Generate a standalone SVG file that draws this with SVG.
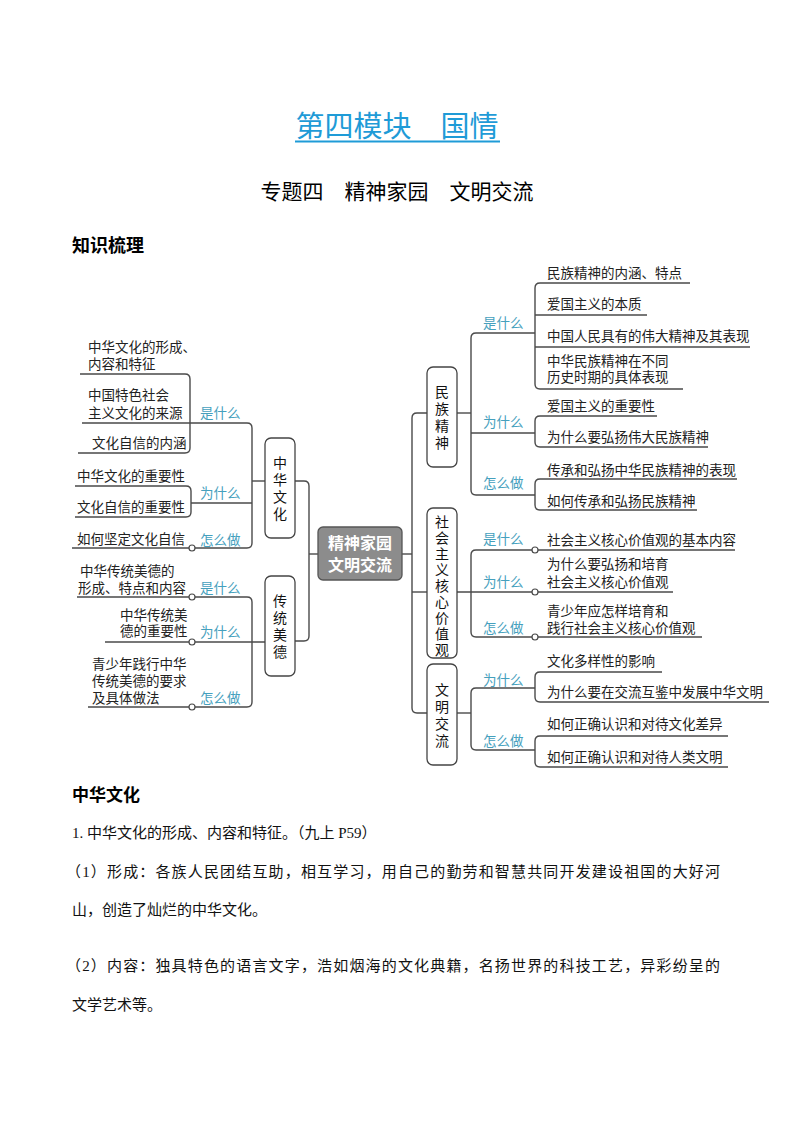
<svg xmlns="http://www.w3.org/2000/svg" width="794" height="1123" viewBox="0 0 794 1123">
<style>
text{font-family:"Liberation Sans","Noto Sans CJK SC",sans-serif;}
.it{font-size:13.5px;fill:#222;}
.lb{font-size:13.5px;fill:#45a0bd;}
.vt{font-size:14px;fill:#111;text-anchor:middle;}
.box{fill:#fff;stroke:#444;stroke-width:1.3;}
.ln{fill:none;stroke:#4a4a4a;stroke-width:1.4;}
.dot{fill:#fff;stroke:#4a4a4a;stroke-width:1.2;}
.body{font-family:"Liberation Serif","Noto Sans CJK SC",serif;font-size:15px;fill:#111;}
</style>
<rect width="794" height="1123" fill="#fff"/>

<g id="title">
<text x="397" y="137" font-size="29" fill="#1f9bd7" text-anchor="middle">第四模块　国情</text>
<line x1="295" y1="141.5" x2="500" y2="141.5" stroke="#1f9bd7" stroke-width="2"/>
<text x="397" y="199" font-size="21" fill="#000" text-anchor="middle">专题四　精神家园　文明交流</text>
<text x="72" y="252" font-size="18" font-weight="bold" fill="#000">知识梳理</text>
</g>

<g id="connectors">
<path class="ln" d="M309,554 H318"/>
<path class="ln" d="M295,481 H304 Q309,481 309,486 V636 Q309,641 304,641 H295"/>
<path class="ln" d="M402,554 H412"/>
<path class="ln" d="M427,413 H417 Q412,413 412,418 V708 Q412,713 417,713 H427"/>
<path class="ln" d="M412,592 H427"/>
<path class="ln" d="M252,481 H265"/>
<path class="ln" d="M82,423 H247 Q252,423 252,428 V543 Q252,548 247,548 H72"/>
<path class="ln" d="M191,503 H252"/>
<path class="ln" d="M80,374 H185 Q190,374 190,379 V448 Q190,453 185,453 H78"/>
<path class="ln" d="M75,486 H186 Q191,486 191,491 V512 Q191,517 186,517 H75"/>
<path class="ln" d="M77,597 H247 Q252,597 252,602 V702 Q252,707 247,707 H88"/>
<path class="ln" d="M105,642 H265"/>
<path class="ln" d="M457,413 H471"/>
<path class="ln" d="M535,333 H476 Q471,333 471,338 V490 Q471,495 476,495 H535"/>
<path class="ln" d="M471,433 H535"/>
<path class="ln" d="M690,283 H540 Q535,283 535,288 V384 Q535,389 540,389 H683"/>
<path class="ln" d="M535,315 H647"/>
<path class="ln" d="M535,347 H750"/>
<path class="ln" d="M657,416 H540 Q535,416 535,421 V442 Q535,447 540,447 H708"/>
<path class="ln" d="M737,479 H540 Q535,479 535,484 V505 Q535,510 540,510 H697"/>
<path class="ln" d="M735,550 H476 Q471,550 471,555 V632 Q471,637 476,637 H702"/>
<path class="ln" d="M457,592 H673"/>
<path class="ln" d="M457,713 H471"/>
<path class="ln" d="M535,688 H476 Q471,688 471,693 V745 Q471,750 476,750 H535"/>
<path class="ln" d="M662,672 H540 Q535,672 535,677 V697 Q535,702 540,702 H769"/>
<path class="ln" d="M728,736 H540 Q535,736 535,741 V762 Q535,767 540,767 H728"/>
<circle class="dot" cx="192" cy="548" r="3"/>
<circle class="dot" cx="192" cy="597" r="3"/>
<circle class="dot" cx="192" cy="642" r="3"/>
<circle class="dot" cx="192" cy="707" r="3"/>
<circle class="dot" cx="535" cy="550" r="3"/>
<circle class="dot" cx="535" cy="592" r="3"/>
<circle class="dot" cx="535" cy="637" r="3"/>
</g>

<g id="center">
<rect x="318" y="527" width="84" height="53" rx="5" fill="#8c8c8c" stroke="#555" stroke-width="1.3"/>
<text x="360" y="549" font-size="16" font-weight="bold" fill="#fff" text-anchor="middle"><tspan x="360" y="549">精神家园</tspan><tspan x="360" y="571">文明交流</tspan></text>
</g>

<g id="zhonghua">
<rect class="box" x="265" y="438" width="30" height="100" rx="6"/>
<text class="vt" x="280" y="468"><tspan x="280" y="468">中</tspan><tspan x="280" y="485">华</tspan><tspan x="280" y="502">文</tspan><tspan x="280" y="519">化</tspan></text>
<text class="lb" x="200" y="418">是什么</text>
<text class="lb" x="200" y="498">为什么</text>
<text class="lb" x="200" y="545">怎么做</text>
<text class="it" x="88" y="352"><tspan x="88" y="352">中华文化的形成、</tspan><tspan x="88" y="369">内容和特征</tspan></text>
<text class="it" x="88" y="400"><tspan x="88" y="400">中国特色社会</tspan><tspan x="88" y="418">主义文化的来源</tspan></text>
<text class="it" x="92" y="448">文化自信的内涵</text>
<text class="it" x="77" y="481">中华文化的重要性</text>
<text class="it" x="77" y="512">文化自信的重要性</text>
<text class="it" x="77" y="544">如何坚定文化自信</text>
</g>

<g id="chuantong">
<rect class="box" x="265" y="576" width="30" height="100" rx="6"/>
<text class="vt" x="280" y="606"><tspan x="280" y="606">传</tspan><tspan x="280" y="623">统</tspan><tspan x="280" y="640">美</tspan><tspan x="280" y="657">德</tspan></text>
<text class="lb" x="200" y="593">是什么</text>
<text class="lb" x="200" y="637">为什么</text>
<text class="lb" x="200" y="703">怎么做</text>
<text class="it" x="80" y="576"><tspan x="80" y="576">中华传统美德的</tspan><tspan x="78" y="593">形成、特点和内容</tspan></text>
<text class="it" x="120" y="620"><tspan x="120" y="620">中华传统美</tspan><tspan x="120" y="636">德的重要性</tspan></text>
<text class="it" x="92" y="669"><tspan x="92" y="669">青少年践行中华</tspan><tspan x="92" y="686">传统美德的要求</tspan><tspan x="92" y="703">及具体做法</tspan></text>
</g>

<g id="minzu">
<rect class="box" x="427" y="367" width="30" height="100" rx="6"/>
<text class="vt" x="442" y="397"><tspan x="442" y="397">民</tspan><tspan x="442" y="414">族</tspan><tspan x="442" y="431">精</tspan><tspan x="442" y="448">神</tspan></text>
<text class="lb" x="483" y="328">是什么</text>
<text class="lb" x="483" y="427">为什么</text>
<text class="lb" x="483" y="488">怎么做</text>
<text class="it" x="547" y="278">民族精神的内涵、特点</text>
<text class="it" x="547" y="309">爱国主义的本质</text>
<text class="it" x="547" y="341">中国人民具有的伟大精神及其表现</text>
<text class="it" x="547" y="366"><tspan x="547" y="366">中华民族精神在不同</tspan><tspan x="547" y="382">历史时期的具体表现</tspan></text>
<text class="it" x="547" y="411">爱国主义的重要性</text>
<text class="it" x="547" y="442">为什么要弘扬伟大民族精神</text>
<text class="it" x="547" y="475">传承和弘扬中华民族精神的表现</text>
<text class="it" x="547" y="506">如何传承和弘扬民族精神</text>
</g>

<g id="shehui">
<rect class="box" x="427" y="508" width="30" height="150" rx="6"/>
<text class="vt" x="442" y="527"><tspan x="442" y="527">社</tspan><tspan x="442" y="543">会</tspan><tspan x="442" y="559">主</tspan><tspan x="442" y="575">义</tspan><tspan x="442" y="591">核</tspan><tspan x="442" y="607">心</tspan><tspan x="442" y="623">价</tspan><tspan x="442" y="639">值</tspan><tspan x="442" y="655">观</tspan></text>
<text class="lb" x="483" y="544">是什么</text>
<text class="lb" x="483" y="587">为什么</text>
<text class="lb" x="483" y="633">怎么做</text>
<text class="it" x="547" y="545">社会主义核心价值观的基本内容</text>
<text class="it" x="547" y="569"><tspan x="547" y="569">为什么要弘扬和培育</tspan><tspan x="547" y="587">社会主义核心价值观</tspan></text>
<text class="it" x="547" y="616"><tspan x="547" y="616">青少年应怎样培育和</tspan><tspan x="547" y="633">践行社会主义核心价值观</tspan></text>
</g>

<g id="wenming">
<rect class="box" x="427" y="664" width="30" height="101" rx="6"/>
<text class="vt" x="442" y="695"><tspan x="442" y="695">文</tspan><tspan x="442" y="712">明</tspan><tspan x="442" y="729">交</tspan><tspan x="442" y="746">流</tspan></text>
<text class="lb" x="483" y="685">为什么</text>
<text class="lb" x="483" y="746">怎么做</text>
<text class="it" x="547" y="666">文化多样性的影响</text>
<text class="it" x="547" y="697">为什么要在交流互鉴中发展中华文明</text>
<text class="it" x="547" y="729">如何正确认识和对待文化差异</text>
<text class="it" x="547" y="762">如何正确认识和对待人类文明</text>
</g>

<g id="bodytext">
<text x="72" y="801" font-size="17" font-weight="bold" fill="#000">中华文化</text>
<text class="body" x="72" y="838">1. 中华文化的形成、内容和特征。（九上 P59）</text>
<text class="body" x="66" y="877" textLength="654" lengthAdjust="spacing">（1）形成：各族人民团结互助，相互学习，用自己的勤劳和智慧共同开发建设祖国的大好河</text>
<text class="body" x="72" y="915">山，创造了灿烂的中华文化。</text>
<text class="body" x="66" y="971" textLength="654" lengthAdjust="spacing">（2）内容：独具特色的语言文字，浩如烟海的文化典籍，名扬世界的科技工艺，异彩纷呈的</text>
<text class="body" x="72" y="1010">文学艺术等。</text>
</g>
</svg>
